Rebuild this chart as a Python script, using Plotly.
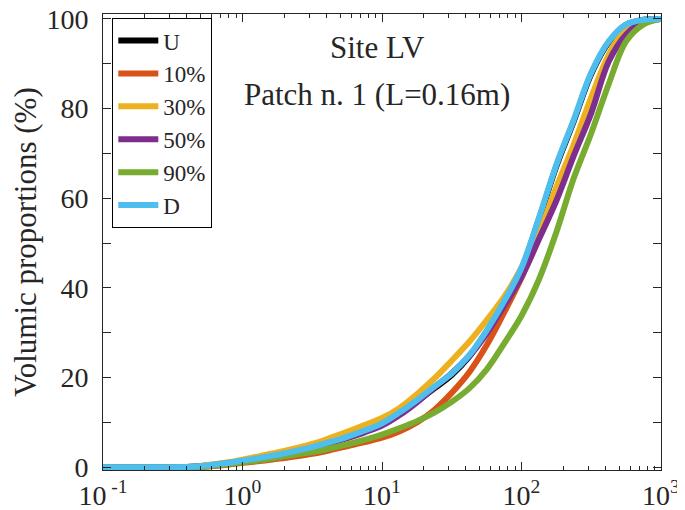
import plotly.graph_objects as go

# Grain size (x, log scale) and cumulative volumic proportions (%)
x_size = [0.1, 0.133, 0.178, 0.237, 0.316, 0.422, 0.562, 0.75,
          1, 1.33, 1.78, 2.37, 3.16, 4.22, 5.62, 7.5,
          10, 13.3, 17.8, 23.7, 31.6, 42.2, 56.2, 75,
          100, 133, 178, 237, 316, 422, 562, 750, 1000]

series_names = ["U", "10%", "30%", "50%", "90%", "D"]

y_U = [0, 0, 0, 0, 0, 0.1, 0.4, 0.9,
       1.4, 2.0, 2.7, 3.5, 4.4, 5.4, 6.6, 8.0,
       9.5, 11.9, 14.7, 17.6, 20.6, 24.7, 30.2, 36.7,
       44.2, 55.2, 67.2, 77.2, 87.7, 94.8, 98.7, 99.8, 100]
y_10 = [0, 0, 0, 0, 0, 0, 0.2, 0.5,
        1.0, 1.4, 1.9, 2.4, 3.0, 3.8, 4.7, 5.6,
        6.6, 8.0, 10.0, 12.8, 16.6, 21.2, 27.2, 34.5,
        42.3, 51.0, 60.0, 70.0, 79.5, 91.0, 96.8, 99.5, 100]
y_30 = [0, 0, 0, 0, 0, 0.1, 0.5, 1.0,
        1.7, 2.5, 3.3, 4.2, 5.2, 6.5, 7.9, 9.4,
        11.0, 13.2, 16.3, 19.8, 23.8, 28.0, 32.8, 38.0,
        44.5, 52.3, 62.5, 72.0, 82.5, 92.0, 97.8, 99.6, 100]
y_50 = [0, 0, 0, 0, 0, 0.05, 0.3, 0.8,
        1.3, 1.9, 2.6, 3.4, 4.3, 5.3, 6.5, 7.8,
        9.3, 11.6, 14.5, 17.8, 21.0, 24.8, 29.8, 36.0,
        42.5, 50.8, 59.5, 69.5, 79.0, 90.5, 96.5, 99.4, 100]
y_90 = [0, 0, 0, 0, 0, 0, 0.2, 0.6,
        1.1, 1.6, 2.2, 2.8, 3.4, 4.2, 5.1, 6.1,
        7.3, 8.7, 10.3, 12.2, 14.6, 17.6, 21.8, 27.6,
        33.8, 41.8, 52.5, 64.5, 74.5, 85.5, 95.0, 98.8, 100]
y_D = [0, 0, 0, 0, 0, 0.1, 0.4, 0.9,
       1.5, 2.1, 2.8, 3.6, 4.5, 5.6, 6.8, 8.2,
       9.8, 12.2, 15.0, 18.0, 20.9, 25.0, 30.5, 37.0,
       44.5, 55.5, 67.5, 77.5, 88.0, 95.0, 98.8, 99.8, 100]

series_values = [y_U, y_10, y_30, y_50, y_90, y_D]
colors = ["#000000", "#D95319", "#EDB120", "#7E2F8E", "#77AC30", "#4DBEEE"]

x_tickvals = [0.1, 1, 10, 100, 1000]
x_ticktext = ["10<sup> -1</sup>", "10<sup>0</sup>", "10<sup>1</sup>", "10<sup>2</sup>", "10<sup>3</sup>"]
y_tickvals = [0, 20, 40, 60, 80, 100]
y_minorvals = [10, 30, 50, 70, 90]

# minor ticks of the log axis: 2..9 within each decade
x_minorvals = [k * 10.0 ** d for d in range(-1, 3) for k in range(2, 10)]

FONT = "Liberation Serif"
TXT = "#262626"

fig = go.Figure()
for name, vals, col in zip(series_names, series_values, colors):
    fig.add_trace(go.Scatter(
        x=x_size, y=vals, name=name, mode="lines",
        line=dict(color=col, width=6, shape="spline", smoothing=1.0),
    ))

# the page body has an 8px margin, so the figure is sized to fit the window
fig.update_layout(
    width=677, height=502,
    margin=dict(l=95, r=24, t=6, b=40),
    paper_bgcolor="white", plot_bgcolor="white",
    font=dict(family=FONT, size=28, color=TXT),
    showlegend=True,
    legend=dict(
        x=0.0167, y=0.991, xanchor="left", yanchor="top",
        bgcolor="white", bordercolor="#000000", borderwidth=1,
        font=dict(family=FONT, size=23, color=TXT),
        tracegroupgap=0, itemwidth=40,
    ),
    annotations=[
        dict(text="Site LV", x=0.4914, y=0.9255, xref="paper", yref="paper",
             showarrow=False, xanchor="center", yanchor="middle",
             font=dict(family=FONT, size=31, color=TXT)),
        dict(text="Patch n. 1 (L=0.16m)", x=0.4914, y=0.8226, xref="paper", yref="paper",
             showarrow=False, xanchor="center", yanchor="middle",
             font=dict(family=FONT, size=31, color=TXT)),
    ],
)

fig.update_xaxes(
    type="log", range=[-1, 3], automargin=False,
    tickvals=x_tickvals, ticktext=x_ticktext,
    ticks="inside", ticklen=8, tickwidth=1, tickcolor=TXT,
    showline=True, linecolor=TXT, linewidth=1, mirror="allticks",
    showgrid=False, zeroline=False,
    ticklabeloverflow="allow",
    tickfont=dict(family=FONT, size=28, color=TXT),
    minor=dict(tickvals=x_minorvals, ticks="inside", ticklen=4, tickcolor=TXT, showgrid=False),
)
fig.update_yaxes(
    range=[-0.6, 101.1], automargin=False,
    tickvals=y_tickvals,
    ticks="inside", ticklen=8, tickwidth=1, tickcolor=TXT,
    showline=True, linecolor=TXT, linewidth=1, mirror="allticks",
    showgrid=False, zeroline=False,
    ticklabelstandoff=8, ticklabeloverflow="allow",
    tickfont=dict(family=FONT, size=28, color=TXT),
    minor=dict(tickvals=y_minorvals, ticks="inside", ticklen=8, tickcolor=TXT, showgrid=False),
    title=dict(text="Volumic proportions (%)", standoff=0,
               font=dict(family=FONT, size=31, color=TXT)),
)

fig.write_html("out.html")
